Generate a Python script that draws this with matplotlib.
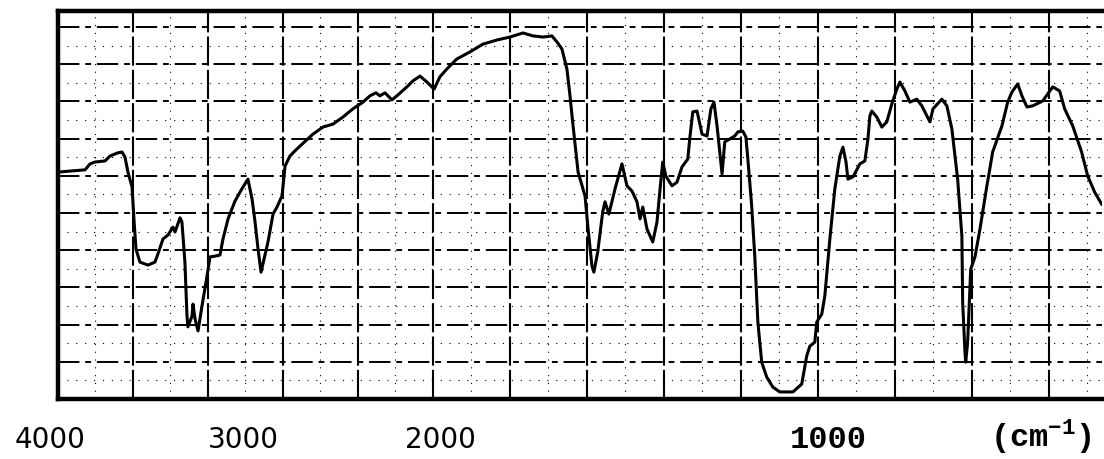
import numpy as np
import matplotlib
matplotlib.use('Agg')
import matplotlib.pyplot as plt

# ---- data (IR spectrum) ----
wavenumber = [4000, 3856, 3829, 3803, 3749, 3723, 3685, 3659, 3643, 3627,
              3605, 3595, 3584, 3563, 3520, 3483, 3467, 3440, 3413, 3387,
              3376, 3349, 3339, 3323, 3312, 3307, 3285, 3280, 3269, 3253,
              3232, 3205, 3189, 3163, 3136, 3120, 3093, 3056, 3019, 2987,
              2965, 2949, 2933, 2917, 2907, 2880, 2853, 2832, 2805, 2789,
              2763, 2736, 2709, 2640, 2587, 2533, 2480, 2427, 2373, 2336,
              2304, 2283, 2256, 2240, 2219, 2192, 2139, 2107, 2069, 2032,
              1997, 1982, 1964, 1938, 1904, 1870, 1834, 1800, 1766, 1740,
              1714, 1691, 1678, 1665, 1652, 1644, 1636, 1623, 1605, 1597,
              1587, 1582, 1572, 1559, 1553, 1543, 1527, 1509, 1496, 1483,
              1470, 1462, 1455, 1444, 1429, 1418, 1410, 1403, 1395, 1379,
              1366, 1353, 1338, 1333, 1325, 1314, 1301, 1288, 1278, 1270,
              1262, 1249, 1242, 1229, 1216, 1208, 1195, 1187, 1182, 1172,
              1164, 1156, 1146, 1133, 1117, 1099, 1065, 1042, 1029, 1021,
              1008, 1003, 990, 982, 969, 956, 943, 935, 927, 922,
              909, 891, 878, 870, 865, 860, 847, 834, 821, 808,
              795, 787, 774, 761, 743, 730, 709, 701, 678, 665,
              652, 644, 637, 626, 624, 618, 616, 611, 603, 592,
              579, 561, 546, 522, 507, 496, 481, 470, 457, 442,
              416, 403, 390, 372, 359, 338, 315, 299, 281, 263]

transmittance = [61.0, 61.6, 63.2, 63.7, 64.0, 65.3, 66.1, 66.4, 65.1, 61.0,
                 57.0, 48.4, 40.3, 36.8, 36.0, 36.8, 39.0, 43.0, 44.1, 46.2,
                 44.9, 48.7, 47.6, 36.8, 22.3, 19.4, 22.3, 25.5, 21.5, 18.3,
                 25.0, 33.1, 38.2, 38.4, 38.7, 43.0, 48.4, 53.2, 56.5, 59.1,
                 53.8, 47.6, 40.3, 34.1, 36.3, 42.2, 49.7, 51.6, 54.6, 62.6,
                 65.3, 66.7, 68.0, 71.2, 73.1, 73.9, 75.8, 78.0, 79.8, 81.5,
                 82.3, 81.5, 82.3, 81.5, 80.4, 81.5, 83.9, 85.5, 86.8, 85.2,
                 83.3, 86.6, 88.7, 91.4, 93.3, 95.4, 96.5, 97.3, 98.4, 97.6,
                 97.3, 97.6, 96.0, 94.1, 88.7, 81.5, 73.4, 61.0, 54.6, 45.7,
                 35.8, 34.1, 39.5, 50.3, 53.0, 49.7, 56.5, 63.2, 57.3, 55.9,
                 53.0, 48.4, 51.6, 45.7, 42.2, 47.6, 56.5, 63.7, 59.9, 57.3,
                 58.3, 62.4, 64.5, 69.9, 77.2, 77.4, 71.2, 70.7, 78.0, 79.8,
                 73.4, 60.5, 69.1, 69.9, 70.7, 71.8, 72.0, 70.4, 64.5, 51.9,
                 38.4, 20.7, 9.9, 5.9, 3.2, 1.9, 1.9, 4.0, 11.6, 14.2,
                 15.3, 20.7, 22.8, 27.7, 43.0, 56.5, 65.3, 67.7, 63.7, 59.1,
                 59.7, 63.2, 64.0, 69.9, 76.1, 77.4, 75.8, 73.1, 74.5, 79.3,
                 83.3, 85.2, 82.8, 79.8, 80.6, 78.8, 74.5, 78.0, 80.6, 78.8,
                 72.6, 65.3, 59.1, 43.8, 26.1, 12.6, 9.9, 15.3, 34.9, 38.2,
                 45.7, 57.3, 66.4, 73.4, 79.8, 82.5, 84.7, 81.5, 78.5, 78.8,
                 80.1, 82.0, 83.9, 82.8, 78.0, 73.4, 66.4, 59.9, 55.6, 52.4]

major_x = [3600, 3200, 2800, 2400, 2000, 1800, 1600, 1400, 1200, 1000, 800, 600, 400]
minor_x = [3800, 3400, 3000, 2600, 2200, 1900, 1700, 1500, 1300, 1100, 900, 700, 500, 300]
major_y = [10, 20, 30, 40, 50, 60, 70, 80, 90, 100]
minor_y = [5, 15, 25, 35, 45, 55, 65, 75, 85, 95]

tick_values = [4000, 3000, 2000, 1000]
tick_labels = ['4000', '3000', '2000', '1000']
unit_label = r'(cm$^{\mathtt{-1}}$)'


# chart paper: 2x expanded scale below 2000 cm-1
def fwd(w):
    w = np.asarray(w, dtype=float)
    return np.where(w >= 2000, 770 + (w - 2000) * 0.1875, w * 0.385)


def inv(p):
    p = np.asarray(p, dtype=float)
    return np.where(p >= 770, 2000 + (p - 770) / 0.1875, p / 0.385)


plt.rcParams['mathtext.fontset'] = 'custom'
plt.rcParams['mathtext.tt'] = 'Liberation Mono:bold'

fig = plt.figure(figsize=(11.04, 4.60), dpi=100)
ax = fig.add_axes([58 / 1104, 60 / 460, 1044 / 1104, 388 / 460])
ax.set_xscale('function', functions=(fwd, inv))
ax.set_xlim(4000, 262)
ax.set_ylim(0, 104.3)

# grid of the chart paper
for xv in minor_x:
    ax.axvline(xv, color='black', lw=0.8, ls=(0, (1, 6)), zorder=1)
for yv in minor_y:
    ax.axhline(yv, color='black', lw=0.8, ls=(0, (1, 7)), zorder=1)
for xv in major_x:
    ax.axvline(xv, color='black', lw=1.5, ls=(0, (14, 2)), zorder=1)
for yv in major_y:
    ax.axhline(yv, color='black', lw=1.4, ls=(0, (11, 3, 3, 3)), zorder=1)

ax.plot(wavenumber, transmittance, color='black', lw=2.2, zorder=3,
        solid_joinstyle='round')

for side in ['top', 'left', 'bottom']:
    ax.spines[side].set_linewidth(3.2)
    ax.spines[side].set_color('black')
ax.spines['right'].set_visible(False)
ax.set_xticks([])
ax.set_yticks([])
ax.tick_params(length=0)

# tick labels under the chart
offsets_px = [-8, -2, 7, 10]
fonts = ['DejaVu Sans', 'DejaVu Sans', 'DejaVu Sans', 'Liberation Mono']
sizes = [20, 20, 20, 23]
weights = ['normal', 'normal', 'normal', 'bold']
for val, lab, dx, fam, sz, wt in zip(tick_values, tick_labels, offsets_px,
                                     fonts, sizes, weights):
    ax.annotate(lab, xy=(val, 0), xycoords=('data', 'axes fraction'),
                xytext=(dx * 0.72, -40 * 0.72), textcoords='offset points',
                ha='center', va='center', fontsize=sz, family=fam,
                fontweight=wt, color='black')

ax.annotate(unit_label, xy=((1041 - 58) / 1044, 0), xycoords='axes fraction',
            xytext=(0, -37 * 0.72), textcoords='offset points',
            ha='center', va='center', fontsize=23, family='Liberation Mono',
            fontweight='bold', color='black')

fig.savefig('out.png', dpi=100)
